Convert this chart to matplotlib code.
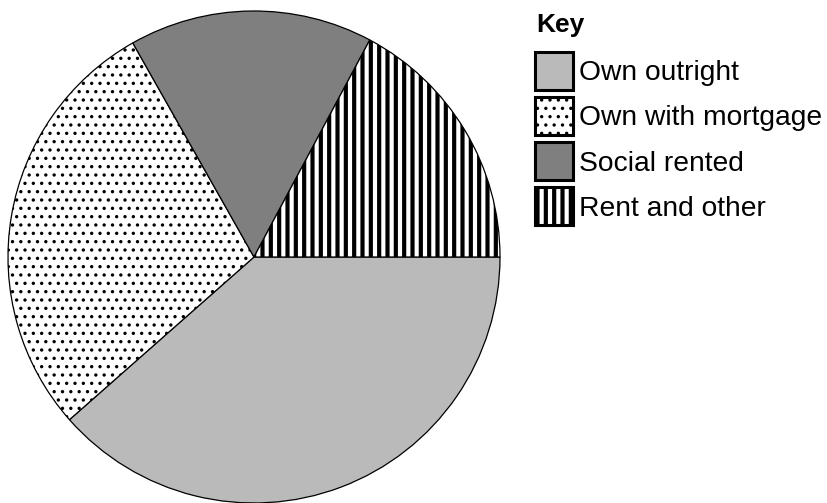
import matplotlib
matplotlib.use("Agg")
import matplotlib.pyplot as plt

# housing tenure shares (percent)
labels = ["Own outright", "Own with mortgage", "Social rented", "Rent and other"]
shares = [38.5, 28.3, 16.0, 17.2]
face_colors = ["#bababa", "white", "#7f7f7f", "white"]
hatches = [None, "..", None, "||"]
hatch_widths = [1.0, 1.2, 1.0, 3.0]

plt.rcParams["font.family"] = ["Liberation Sans", "DejaVu Sans"]

fig = plt.figure(figsize=(8.28, 5.03), dpi=100)
ax = fig.add_axes([8 / 828, 0, 492 / 828, 492 / 503])

wedges, _ = ax.pie(shares, startangle=0, counterclock=False,
                   colors=face_colors,
                   wedgeprops=dict(edgecolor="black", linewidth=0.9))
for w, h, hw in zip(wedges, hatches, hatch_widths):
    w.set_clip_on(False)
    if h:
        w.set_hatch(h)
        if hasattr(w, "set_hatch_linewidth"):
            w.set_hatch_linewidth(hw)
ax.set_xlim(-1, 1)
ax.set_ylim(-1, 1)
ax.set_aspect("equal")

# "Key" heading sits a bit further above the entries than a legend title would
fig.text(536 / 828, 1 - 32 / 503, "Key", fontsize=19, fontweight="bold",
         ha="left", va="baseline")

leg = fig.legend(wedges, labels, loc="upper left",
                 bbox_to_anchor=(521 / 828, 1 - 38 / 503),
                 frameon=False, fontsize=20.3,
                 handlelength=1.35, handleheight=1.70, handletextpad=0.2,
                 labelspacing=0.25, borderpad=0.5, borderaxespad=0)
for p, hw in zip(leg.get_patches(), hatch_widths):
    p.set_linewidth(2.2)
    if hasattr(p, "set_hatch_linewidth"):
        p.set_hatch_linewidth(hw)

fig.savefig("out.png", dpi=100)
